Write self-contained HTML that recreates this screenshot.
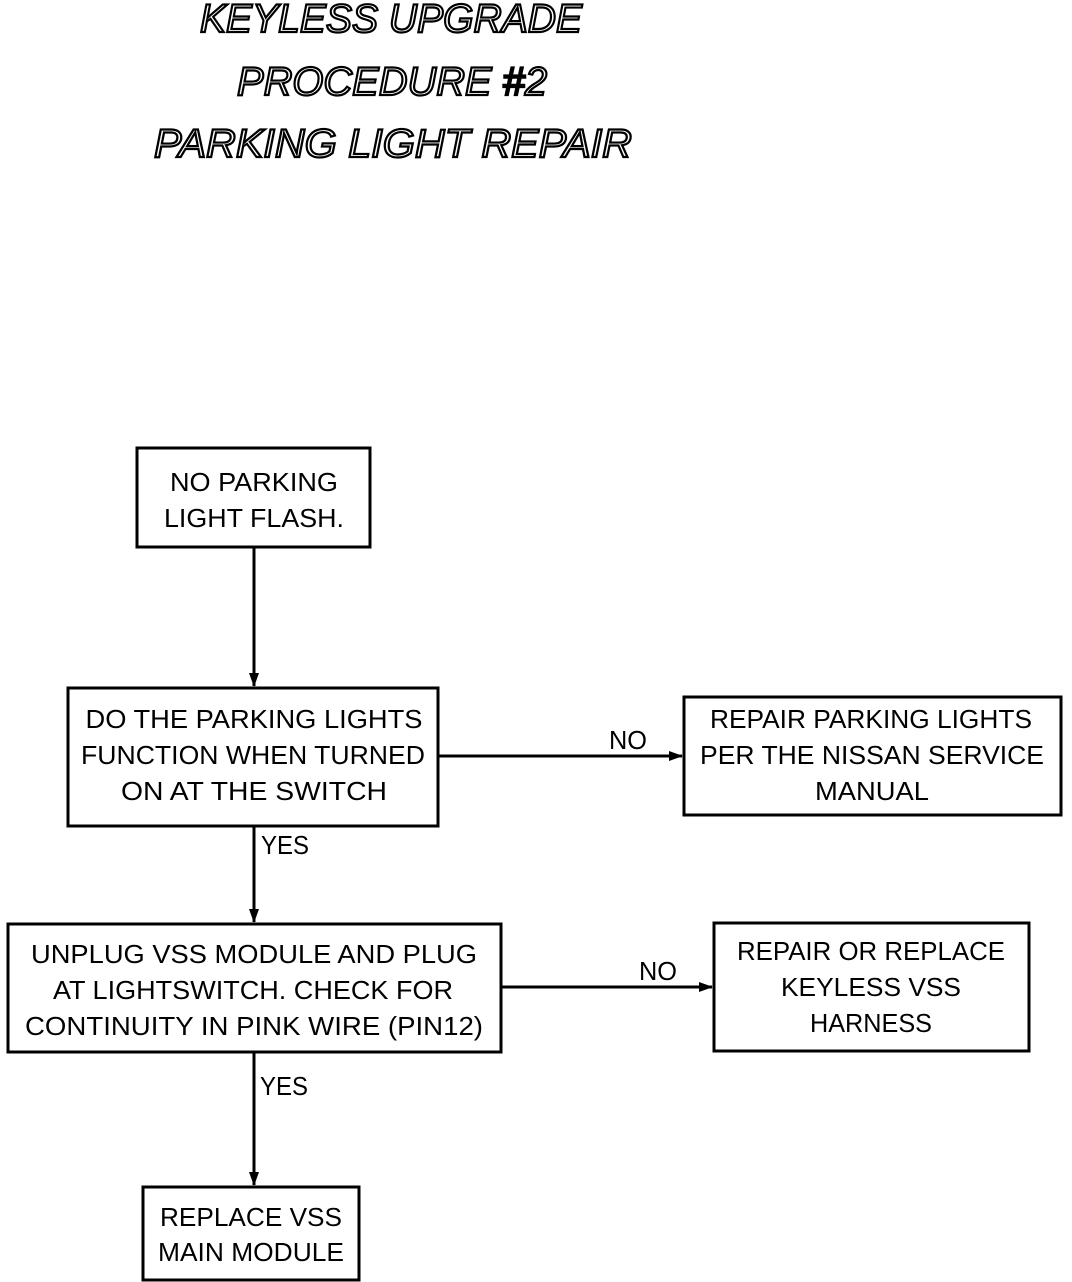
<!DOCTYPE html>
<html><head><meta charset="utf-8"><style>
html,body{margin:0;padding:0;background:#fff;}
svg{display:block;}
</style></head><body>
<svg width="1072" height="1282" viewBox="0 0 1072 1282" xmlns="http://www.w3.org/2000/svg">
<defs>
<marker id="ah" markerWidth="14" markerHeight="10" refX="13" refY="5" orient="auto" markerUnits="userSpaceOnUse">
<path d="M0,0 L14,5 L0,10 Z" fill="#000"/>
</marker>
</defs>
<g font-family="Liberation Sans, sans-serif" font-style="italic" font-size="40" fill="#fff" stroke="#000" stroke-width="2.2" text-anchor="middle">
<text x="391" y="32" textLength="382" lengthAdjust="spacingAndGlyphs">KEYLESS UPGRADE</text>
<text x="392" y="95" textLength="310" lengthAdjust="spacingAndGlyphs">PROCEDURE #2</text>
<text x="393" y="157" textLength="478" lengthAdjust="spacingAndGlyphs">PARKING LIGHT REPAIR</text>
</g>
<g fill="none" stroke="#000" stroke-width="3">
<rect x="137" y="448" width="233" height="99"/>
<rect x="68" y="688" width="370" height="138"/>
<rect x="684" y="697" width="377" height="118"/>
<rect x="8" y="924" width="493" height="128"/>
<rect x="714" y="923" width="315" height="128"/>
<rect x="143" y="1187" width="216" height="93"/>
<line x1="254" y1="547" x2="254" y2="686" marker-end="url(#ah)"/>
<line x1="254" y1="826" x2="254" y2="922" marker-end="url(#ah)"/>
<line x1="254" y1="1052" x2="254" y2="1185" marker-end="url(#ah)"/>
<line x1="438" y1="756" x2="682" y2="756" marker-end="url(#ah)"/>
<line x1="501" y1="987" x2="712" y2="987" marker-end="url(#ah)"/>
</g>
<g font-family="Liberation Sans, sans-serif" font-size="26" fill="#000" text-anchor="middle">
<text x="254" y="491" textLength="168" lengthAdjust="spacingAndGlyphs">NO PARKING</text>
<text x="254" y="527" textLength="180" lengthAdjust="spacingAndGlyphs">LIGHT FLASH.</text>
<text x="254" y="728" textLength="337" lengthAdjust="spacingAndGlyphs">DO THE PARKING LIGHTS</text>
<text x="253" y="764" textLength="344" lengthAdjust="spacingAndGlyphs">FUNCTION WHEN TURNED</text>
<text x="254" y="800" textLength="266" lengthAdjust="spacingAndGlyphs">ON AT THE SWITCH</text>
<text x="871" y="728" textLength="322" lengthAdjust="spacingAndGlyphs">REPAIR PARKING LIGHTS</text>
<text x="872" y="764" textLength="344" lengthAdjust="spacingAndGlyphs">PER THE NISSAN SERVICE</text>
<text x="872" y="800" textLength="114" lengthAdjust="spacingAndGlyphs">MANUAL</text>
<text x="254" y="963" textLength="446" lengthAdjust="spacingAndGlyphs">UNPLUG VSS MODULE AND PLUG</text>
<text x="253" y="999" textLength="400" lengthAdjust="spacingAndGlyphs">AT LIGHTSWITCH. CHECK FOR</text>
<text x="254" y="1035" textLength="458" lengthAdjust="spacingAndGlyphs">CONTINUITY IN PINK WIRE (PIN12)</text>
<text x="871" y="960" textLength="268" lengthAdjust="spacingAndGlyphs">REPAIR OR REPLACE</text>
<text x="871" y="996" textLength="180" lengthAdjust="spacingAndGlyphs">KEYLESS VSS</text>
<text x="871" y="1032" textLength="122" lengthAdjust="spacingAndGlyphs">HARNESS</text>
<text x="251" y="1226" textLength="182" lengthAdjust="spacingAndGlyphs">REPLACE VSS</text>
<text x="251" y="1261" textLength="186" lengthAdjust="spacingAndGlyphs">MAIN MODULE</text>
<text x="628" y="749" textLength="38" lengthAdjust="spacingAndGlyphs">NO</text>
<text x="658" y="980" textLength="38" lengthAdjust="spacingAndGlyphs">NO</text>
<text x="285" y="854" textLength="48" lengthAdjust="spacingAndGlyphs">YES</text>
<text x="284" y="1095" textLength="48" lengthAdjust="spacingAndGlyphs">YES</text>
</g>
</svg>
</body></html>
